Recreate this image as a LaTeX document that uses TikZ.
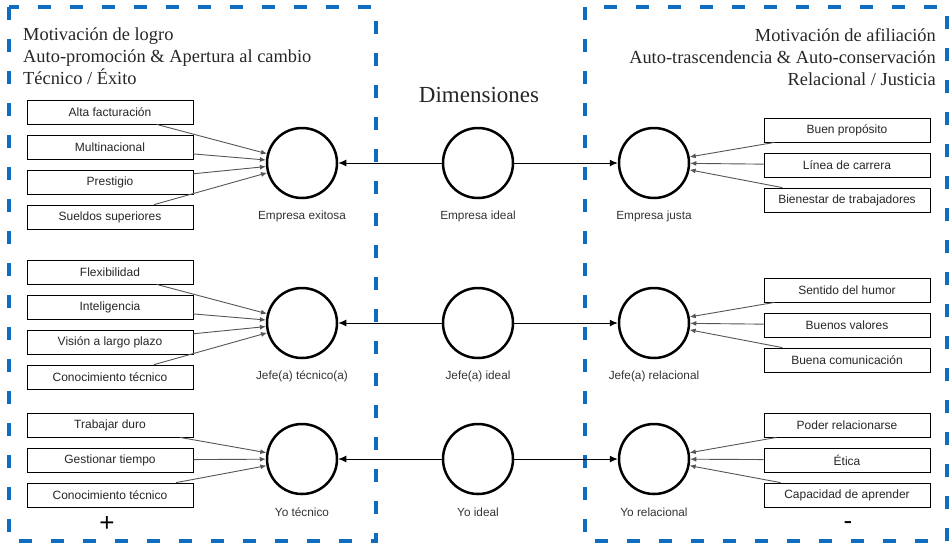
\documentclass[tikz,border=0pt]{standalone}
\usepackage{fontspec}
\setmainfont{Liberation Serif}
\setsansfont{Liberation Sans}
\usepackage{xcolor}
\usepackage{tikz}
\usetikzlibrary{arrows.meta}

\definecolor{frameblue}{RGB}{16,108,190}
\definecolor{linkgray}{RGB}{85,85,85}

\begin{document}
\begin{tikzpicture}[x=1pt,y=-1pt,
                >={Latex[length=6pt,width=5pt]},
                node distance=35pt,
                main/.style = {draw, circle, line width=2.5pt, minimum size=70pt, inner sep=0pt},
                item/.style = {draw, line width=0.8pt, minimum width=166pt, minimum height=24pt,
                               inner sep=0pt, font=\sffamily\fontsize{12}{14}\selectfont, text=black!85},
                lbl/.style = {font=\sffamily\fontsize{11.8}{14}\selectfont, text=black!80},
                head/.style = {inner sep=0pt, font=\fontsize{18.4}{22}\selectfont, text=black!85},
                sign/.style = {font=\sffamily\fontsize{26}{28}\selectfont},
                frame/.style = {draw=frameblue, line width=3.5pt, dash pattern=on 13pt off 19pt},
                link/.style = {->, draw=linkgray, line width=0.9pt},
                axis/.style = {-{Latex[length=8pt,width=7pt]}, line width=1pt}]
            \useasboundingbox (0,0) rectangle (949,547);

            % Frames
            \draw[frame] (9,7) rectangle (376,541);
            \draw[frame] (585,7) rectangle (947,541);

            % Titles
            \node[head, anchor=north west, align=left] (titL) at (23,28)
                {Motivación de logro\\Auto-promoción \& Apertura al cambio\\Técnico / Éxito};
            \node[head, anchor=north east, align=right] (titR) at (936,28)
                {Motivación de afiliación\\Auto-trascendencia \& Auto-conservación\\Relacional / Justicia};
            \node[font=\fontsize{23}{26}\selectfont, text=black!85] (dim) at (479,95) {Dimensiones};

            % Circles
            \node[main] (EI) at (478,163) {};
            \node[main] (JI) at (478,323) {};
            \node[main] (YI) at (478,459) {};
            \node[main] (EE) [node distance=176pt, left of=EI] {};
            \node[main] (EJ) [node distance=176pt, right of=EI] {};
            \node[main] (JT) [node distance=176pt, left of=JI] {};
            \node[main] (JR) [node distance=176pt, right of=JI] {};
            \node[main] (YT) [node distance=176pt, left of=YI] {};
            \node[main] (YR) [node distance=176pt, right of=YI] {};

            % Labels
            \node[lbl] (EEl) [node distance=53pt, below of=EE] {Empresa exitosa};
            \node[lbl] (EIl) [node distance=53pt, below of=EI] {Empresa ideal};
            \node[lbl] (EJl) [node distance=53pt, below of=EJ] {Empresa justa};
            \node[lbl] (JTl) [node distance=53pt, below of=JT] {Jefe(a) técnico(a)};
            \node[lbl] (JIl) [node distance=53pt, below of=JI] {Jefe(a) ideal};
            \node[lbl] (JRl) [node distance=53pt, below of=JR] {Jefe(a) relacional};
            \node[lbl] (YTl) [node distance=53pt, below of=YT] {Yo técnico};
            \node[lbl] (YIl) [node distance=53pt, below of=YI] {Yo ideal};
            \node[lbl] (YRl) [node distance=53pt, below of=YR] {Yo relacional};

            % Boxes left
            \node[item] (fact) at (110,112) {Alta facturación};
            \node[item] (multi) [below of=fact] {Multinacional};
            \node[item] (prest) [below of=multi] {Prestigio};
            \node[item] (sueld) [below of=prest] {Sueldos superiores};
            \node[item] (flex) at (110,272) {Flexibilidad};
            \node[item] (intel) [below of=flex] {Inteligencia};
            \node[item] (vis) [below of=intel] {Visión a largo plazo};
            \node[item] (conocA) [below of=vis] {Conocimiento técnico};
            \node[item] (duro) at (110,425) {Trabajar duro};
            \node[item] (tiempo) [below of=duro] {Gestionar tiempo};
            \node[item] (conocB) [below of=tiempo] {Conocimiento técnico};

            % Boxes right
            \node[item] (prop) at (847,130) {Buen propósito};
            \node[item] (carr) [below of=prop] {Línea de carrera};
            \node[item] (bien) [below of=carr] {Bienestar de trabajadores};
            \node[item] (humor) at (847,290) {Sentido del humor};
            \node[item] (valor) [below of=humor] {Buenos valores};
            \node[item] (comun) [below of=valor] {Buena comunicación};
            \node[item] (relac) at (847,425) {Poder relacionarse};
            \node[item] (etica) [below of=relac] {Ética};
            \node[item] (apren) [below of=etica] {Capacidad de aprender};

            % Signs
            \node[sign] (plus) at (107,524) {+};
            \node[sign] (minus) at (848,526) {-};

            %Edges
            \draw[axis] (EI) -- (EE);
            \draw[axis] (EI) -- (EJ);
            \draw[axis] (JI) -- (JT);
            \draw[axis] (JI) -- (JR);
            \draw[axis] (YI) -- (YT);
            \draw[axis] (YI) -- (YR);

            \draw[link] (fact) -- (EE);
            \draw[link] (multi) -- (EE);
            \draw[link] (prest) -- (EE);
            \draw[link] (sueld) -- (EE);
            \draw[link] (flex) -- (JT);
            \draw[link] (intel) -- (JT);
            \draw[link] (vis) -- (JT);
            \draw[link] (conocA) -- (JT);
            \draw[link] (duro) -- (YT);
            \draw[link] (tiempo) -- (YT);
            \draw[link] (conocB) -- (YT);

            \draw[link] (prop) -- (EJ);
            \draw[link] (carr) -- (EJ);
            \draw[link] (bien) -- (EJ);
            \draw[link] (humor) -- (JR);
            \draw[link] (valor) -- (JR);
            \draw[link] (comun) -- (JR);
            \draw[link] (relac) -- (YR);
            \draw[link] (etica) -- (YR);
            \draw[link] (apren) -- (YR);
        \end{tikzpicture}
\end{document}
